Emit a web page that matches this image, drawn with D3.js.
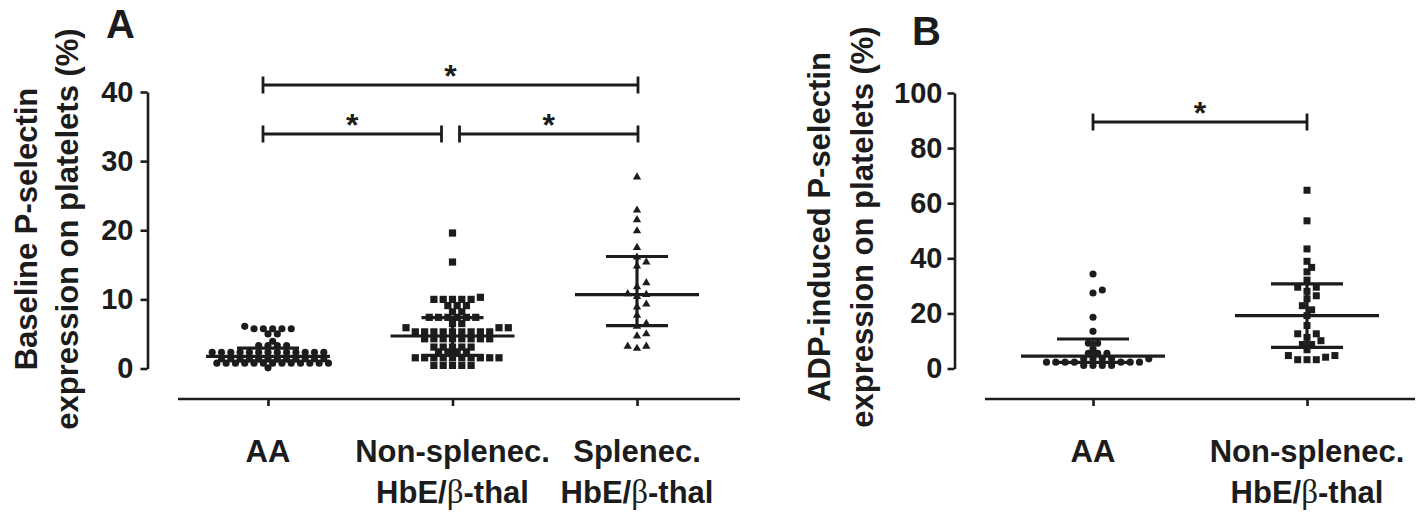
<!DOCTYPE html>
<html><head><meta charset="utf-8">
<script src="https://cdn.jsdelivr.net/npm/d3@7"></script>
<style>body{margin:0;background:#fff} svg{display:block}</style>
</head><body><svg id="c" width="1427" height="514"></svg>
<script>
// ---------- DATA ----------
const groupsA = ["AA", "Non-splenec.", "Splenec."];
const catLabelsA = [["AA"], ["Non-splenec.", "HbE/β-thal"], ["Splenec.", "HbE/β-thal"]];
const ticksA = [0, 10, 20, 30, 40];
const aaA = [6.1, 5.75, 5.75, 5.75, 5.75, 5.75, 5.0, 5.0, 3.95, 3.3, 3.3, 3.3, 3.3,
  2.35, 2.35, 2.35, 2.35, 2.35, 2.35, 2.35, 2.35, 2.35, 2.35, 2.35, 2.35, 2.35,
  1.4, 1.4, 1.4, 1.4, 1.4, 1.4, 1.4, 1.4, 1.4, 1.4, 1.4, 1.4,
  0.77, 0.77, 0.77, 0.77, 0.77, 0.77, 0.77, 0.77, 0.77, 0.77, 0.77, 0.77, 0.77, 0.1];
const nonA = [19.6, 15.4, 10.3, 10.0, 10.0, 10.0, 10.0, 10.0, 9.1, 9.1, 9.1, 8.2, 8.2,
  7.4, 7.4, 7.4, 7.4, 7.4, 7.4, 6.5, 6.5, 5.9, 5.9, 5.9,
  5.3, 5.3, 5.3, 5.3, 5.3, 5.3, 5.3, 5.3, 5.3, 4.3, 4.3, 4.3, 4.3, 4.3, 4.3, 4.3, 4.3,
  3.1, 3.1, 3.1, 3.1, 3.1, 2.4, 2.4, 2.4, 2.4,
  1.55, 1.55, 1.55, 1.55, 1.55, 1.55, 1.55, 1.55, 1.55, 1.55, 0.45, 0.45, 0.45, 0.45, 0.45];
const splA = [27.7, 22.9, 21.5, 19.9, 17.5, 16.1, 15.4, 14.8, 12.4, 11.8, 10.8, 10.7, 10.4,
  9.3, 8.9, 7.7, 6.5, 6.1, 5.0, 4.7, 3.2, 3.2, 2.9];
const medianA = [1.75, 4.7, 10.7];
const lowerA = [1.1, 1.9, 6.2];
const upperA = [2.95, 7.35, 16.2];
// significance pairs: [from, to]
const sigA = [[0, 2, "top"], [0, 1, "low"], [1, 2, "low"]];

const groupsB = ["AA", "Non-splenec."];
const catLabelsB = [["AA"], ["Non-splenec.", "HbE/β-thal"]];
const ticksB = [0, 20, 40, 60, 80, 100];
const aaB = [34.3, 28.5, 27.4, 18.6, 13.5, 9.2, 9.2, 7.1, 5.5, 5.5, 5.5,
  3.5, 3.5, 3.5, 3.5, 3.5, 2.3, 2.3, 2.3, 2.3, 2.3, 2.3, 2.3, 1.1, 1.1, 1.1, 1.1];
const nonB = [64.7, 53.6, 43.4, 38.9, 36.7, 35.1, 32.1, 29.5, 29.5, 28.0, 26.4, 25.3, 22.8,
  21.3, 19.2, 15.6, 12.6, 12.6, 11.3, 10.1, 8.7, 8.7, 6.8, 4.7, 4.7, 4.1, 3.2, 3.2, 3.2];
const medianB = [4.5, 19.2];
const lowerB = [2.2, 7.7];
const upperB = [10.7, 30.7];
const sigB = [[0, 1, "top"]];

// ---------- DRAW ----------
const INK = "#1c1c1c";
const FONT = "'Liberation Sans', Arial, Helvetica, sans-serif";
const svg = d3.select("#c");

function swarm(values, y, step, coll) {
  const pts = values.map(v => ({v, y: y(v)})).sort((a, b) => b.y - a.y);
  const placed = [];
  for (const p of pts) {
    for (let k = 0; k < 400; k++) {
      const off = k === 0 ? 0 : (k % 2 ? 1 : -1) * Math.ceil(k / 2) * step;
      if (placed.every(q => Math.hypot(q.dx - off, q.y - p.y) >= coll)) { p.dx = off; break; }
    }
    placed.push(p);
  }
  return placed;
}

function labelLine(sel, txt) {
  const parts = txt.split("β");
  parts.forEach((p, i) => {
    if (i > 0) sel.append("tspan").attr("font-family", "'Liberation Serif', 'DejaVu Serif', serif")
      .attr("font-weight", "normal").attr("font-size", 33).text("β");
    if (p) sel.append("tspan").text(p);
  });
}

function panel(cfg) {
  const g = svg.append("g");
  const y = d3.scaleLinear().domain(cfg.yDomain).range([cfg.y0, cfg.y1]);
  const x = d3.scalePoint().domain(cfg.groups).range(cfg.xRange);

  // y axis
  const ya = g.append("g").attr("transform", `translate(${cfg.axisX},0)`)
    .call(d3.axisLeft(y).tickValues(cfg.ticks).tickSize(7).tickSizeOuter(0).tickPadding(cfg.tickPad));
  ya.selectAll("path,line").attr("stroke", INK).attr("stroke-width", 2.6);
  ya.selectAll("text").attr("font-family", FONT).attr("font-weight", "bold")
    .attr("font-size", 29).attr("fill", INK);

  // x axis
  const xa = g.append("g").attr("transform", `translate(0,${cfg.xAxisY})`)
    .call(d3.axisBottom(x).tickSize(7).tickFormat(""));
  xa.select(".domain").remove();
  xa.selectAll("line").attr("stroke", INK).attr("stroke-width", 2.6);
  g.append("line").attr("x1", cfg.xLine[0]).attr("x2", cfg.xLine[1])
    .attr("y1", cfg.xAxisY).attr("y2", cfg.xAxisY).attr("stroke", INK).attr("stroke-width", 2.6);

  // category labels
  cfg.groups.forEach((grp, i) => {
    cfg.catLabels[i].forEach((line, j) => {
      const t = g.append("text").attr("x", x(grp)).attr("y", 462 + j * 41)
        .attr("text-anchor", "middle").attr("font-family", FONT).attr("font-weight", "bold")
        .attr("font-size", 31).attr("fill", INK);
      labelLine(t, line);
    });
  });

  // y title
  cfg.title.forEach((line, j) => {
    g.append("text").attr("transform", `translate(${cfg.titleX[j]},${cfg.titleY}) rotate(-90)`)
      .attr("text-anchor", "middle").attr("font-family", FONT).attr("font-weight", "bold")
      .attr("font-size", 31).attr("fill", INK).text(line);
  });

  // panel letter
  g.append("text").attr("x", cfg.letterPos[0]).attr("y", cfg.letterPos[1])
    .attr("font-family", FONT).attr("font-weight", "bold").attr("font-size", 40)
    .attr("fill", INK).text(cfg.letter);

  // points
  cfg.series.forEach((vals, i) => {
    const pts = swarm(vals, y, 4.65, 6.3);
    const sym = d3.symbol().type(cfg.symbols[i]).size(cfg.sizes[i]);
    g.append("g").selectAll("path").data(pts).join("path")
      .attr("d", sym).attr("fill", INK)
      .attr("transform", d => `translate(${x(cfg.groups[i]) + d.dx},${d.y})`);
  });

  // median + IQR bars
  cfg.groups.forEach((grp, i) => {
    const cx = x(grp);
    const eb = g.append("g").attr("stroke", INK).attr("stroke-width", 3.2);
    eb.append("line").attr("x1", cx).attr("x2", cx).attr("y1", y(cfg.lower[i])).attr("y2", y(cfg.upper[i]));
    eb.append("line").attr("x1", cx - cfg.medW).attr("x2", cx + cfg.medW)
      .attr("y1", y(cfg.median[i])).attr("y2", y(cfg.median[i]));
    [cfg.lower[i], cfg.upper[i]].forEach(v => {
      eb.append("line").attr("x1", cx - cfg.barW).attr("x2", cx + cfg.barW)
        .attr("y1", y(v)).attr("y2", y(v));
    });
  });

  // significance brackets
  cfg.sig.forEach(([a, b, row]) => {
    const by = cfg.sigY[row];
    let xa1 = x(cfg.groups[a]) + cfg.sigShift[0], xb1 = x(cfg.groups[b]) + cfg.sigShift[1];
    if (row === "low" && a === 0 && b === 1 && cfg.groups.length > 2) xb1 = x(cfg.groups[1]) - 11;
    if (row === "low" && a === 1) xa1 = x(cfg.groups[1]) + 7;
    const bg = g.append("g").attr("stroke", INK).attr("stroke-width", 2.8);
    bg.append("line").attr("x1", xa1).attr("x2", xb1).attr("y1", by).attr("y2", by);
    [xa1, xb1].forEach(xx => bg.append("line").attr("x1", xx).attr("x2", xx)
      .attr("y1", by - 8.5).attr("y2", by + 8.5));
    g.append("text").attr("x", (xa1 + xb1) / 2).attr("y", by + 2)
      .attr("text-anchor", "middle").attr("font-family", FONT).attr("font-weight", "bold")
      .attr("font-size", 32).attr("fill", INK).text("*");
  });
}

panel({
  groups: groupsA, catLabels: catLabelsA, ticks: ticksA, yDomain: [0, 40],
  y0: 368.5, y1: 92, xRange: [268, 637], axisX: 147.5, tickPad: 7,
  xAxisY: 399, xLine: [178, 740],
  title: ["Baseline P-selectin", "expression on platelets (%)"], titleX: [37, 78], titleY: 229,
  letter: "A", letterPos: [106, 38],
  series: [aaA, nonA, splA], symbols: [d3.symbolCircle, d3.symbolSquare, d3.symbolTriangle],
  sizes: [40, 52, 30],
  median: medianA, lower: lowerA, upper: upperA, medW: 62, barW: 31,
  sig: sigA, sigY: {top: 85, low: 134}, sigShift: [-5, 1]
});

panel({
  groups: groupsB, catLabels: catLabelsB, ticks: ticksB, yDomain: [0, 100],
  y0: 368.5, y1: 93, xRange: [1093, 1307], axisX: 954.5, tickPad: 5,
  xAxisY: 399, xLine: [985, 1415],
  title: ["ADP-induced P-selectin", "expression on platelets (%)"], titleX: [830, 873], titleY: 227,
  letter: "B", letterPos: [912, 45],
  series: [aaB, nonB], symbols: [d3.symbolCircle, d3.symbolSquare],
  sizes: [40, 49],
  median: medianB, lower: lowerB, upper: upperB, medW: 72, barW: 36,
  sig: sigB, sigY: {top: 122}, sigShift: [0, 0]
});
</script></body></html>
